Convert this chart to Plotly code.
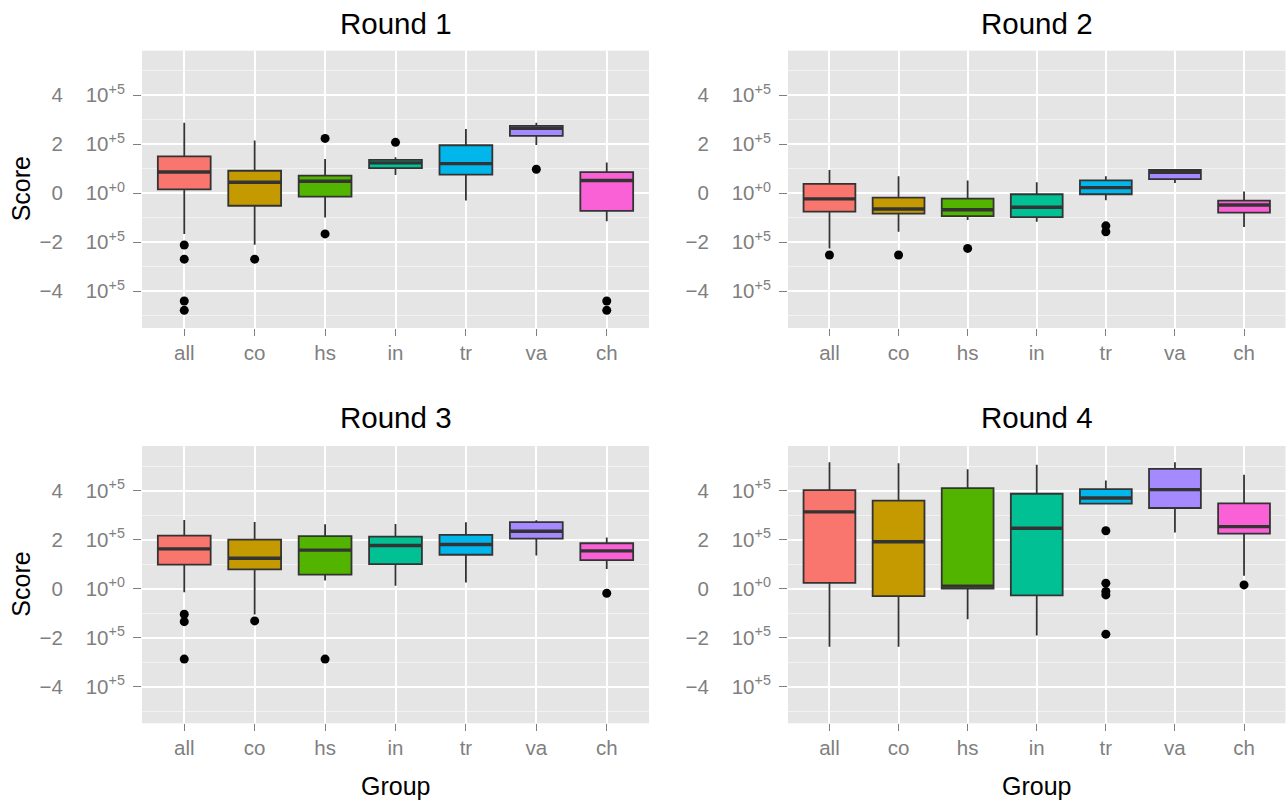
import plotly.graph_objects as go

# ---------------- data (values in units of 10^5) ----------------
groups = ["all", "co", "hs", "in", "tr", "va", "ch"]
colors = ["#F8766D", "#C49A00", "#53B400", "#00C094", "#00B6EB", "#A58AFF", "#FB61D7"]
rounds = ["Round 1", "Round 2", "Round 3", "Round 4"]

r1_q1 = [0.16, -0.51, -0.14, 1.03, 0.76, 2.34, -0.72]
r1_med = [0.87, 0.45, 0.49, 1.24, 1.21, 2.65, 0.52]
r1_q3 = [1.51, 0.92, 0.72, 1.36, 1.96, 2.75, 0.86]
r1_lo = [-1.66, -2.10, -0.99, 0.75, -0.30, 1.97, -1.14]
r1_hi = [2.88, 2.15, 1.40, 1.47, 2.62, 2.88, 1.26]
r1_out = [[-2.11, -2.69, -4.40, -4.78], [-2.69], [2.24, -1.66], [2.08], [], [0.98], [-4.40, -4.78]]

r2_q1 = [-0.75, -0.83, -0.93, -0.97, -0.04, 0.58, -0.79]
r2_med = [-0.23, -0.64, -0.67, -0.57, 0.23, 0.86, -0.48]
r2_q3 = [0.38, -0.18, -0.22, -0.04, 0.53, 0.95, -0.30]
r2_lo = [-2.25, -1.57, -1.09, -1.16, -0.29, 0.42, -1.38]
r2_hi = [0.95, 0.69, 0.52, 0.45, 0.69, 0.97, 0.07]
r2_out = [[-2.52], [-2.52], [-2.25], [], [-1.33, -1.57], [], []]

r3_q1 = [0.98, 0.78, 0.57, 1.00, 1.38, 2.04, 1.16]
r3_med = [1.62, 1.24, 1.57, 1.76, 1.80, 2.34, 1.54]
r3_q3 = [2.16, 2.00, 2.14, 2.12, 2.19, 2.71, 1.85]
r3_lo = [-0.15, -1.06, 0.33, 0.11, 0.25, 1.35, 0.80]
r3_hi = [2.80, 2.72, 2.63, 2.64, 2.71, 2.79, 2.08]
r3_out = [[-1.05, -1.35, -2.88], [-1.32], [-2.88], [], [], [], [-0.19]]

r4_q1 = [0.23, -0.31, 0.00, -0.28, 3.47, 3.29, 2.24]
r4_med = [3.13, 1.91, 0.10, 2.46, 3.70, 4.04, 2.53]
r4_q3 = [4.02, 3.59, 4.10, 3.87, 4.06, 4.89, 3.48]
r4_lo = [-2.37, -2.37, -1.25, -1.92, 3.47, 2.29, 0.52]
r4_hi = [5.16, 5.12, 4.87, 5.05, 4.41, 5.16, 4.65]
r4_out = [[], [], [], [], [2.36, 0.22, -0.12, -0.26, -1.86], [], [0.15]]

ytick_vals = [-4, -2, 0, 2, 4]
ytick_mant = ["\u22124", "\u22122", "0", "2", "4"]
ytick_exp = ["+5", "+5", "+0", "+5", "+5"]
yminor_vals = [-5, -3, -1, 1, 3, 5]

panels = [
    (r1_q1, r1_med, r1_q3, r1_lo, r1_hi, r1_out),
    (r2_q1, r2_med, r2_q3, r2_lo, r2_hi, r2_out),
    (r3_q1, r3_med, r3_q3, r3_lo, r3_hi, r3_out),
    (r4_q1, r4_med, r4_q3, r4_lo, r4_hi, r4_out),
]

# ---------------- layout geometry ----------------
W, H = 1287, 803
FONT = "Liberation Sans, Arial, Helvetica, sans-serif"
BOXW = 0.75
x_dom = [[142 / W, 649 / W], [788 / W, 1285.5 / W]]
y_dom = [[1 - 328 / H, 1 - 50.7 / H], [1 - 723.3 / H, 1 - 446 / H]]

fig = go.Figure()
xpos = list(range(len(groups)))

for p, (q1, med, q3, lo, hi, outs) in enumerate(panels):
    sfx = "" if p == 0 else str(p + 1)
    xa, ya = "x" + sfx, "y" + sfx
    for i, g in enumerate(groups):
        fig.add_trace(go.Box(
            x=[xpos[i]], q1=[q1[i]], median=[med[i]], q3=[q3[i]],
            lowerfence=[lo[i]], upperfence=[hi[i]],
            fillcolor=colors[i], line=dict(color="#333333", width=1.8),
            width=BOXW, whiskerwidth=0, boxpoints=False,
            xaxis=xa, yaxis=ya, showlegend=False, name=g,
        ))
    # thick median lines (ggplot style)
    mx, my = [], []
    for i in range(len(groups)):
        mx += [xpos[i] - BOXW / 2, xpos[i] + BOXW / 2, None]
        my += [med[i], med[i], None]
    fig.add_trace(go.Scatter(x=mx, y=my, mode="lines",
                             line=dict(color="#333333", width=3.4),
                             xaxis=xa, yaxis=ya, showlegend=False, hoverinfo="skip"))
    ox, oy = [], []
    for i in range(len(groups)):
        for v in outs[i]:
            ox.append(xpos[i])
            oy.append(v)
    fig.add_trace(go.Scatter(x=ox, y=oy, mode="markers",
                             marker=dict(color="black", size=9),
                             xaxis=xa, yaxis=ya, showlegend=False))

ytext = [m + "\u00a0\u00a0\u00a0\u00a0" + "10<sup>" + e + "</sup>" for m, e in zip(ytick_mant, ytick_exp)]

layout = dict(
    width=W, height=H,
    margin=dict(l=0, r=0, t=0, b=0),
    paper_bgcolor="white", plot_bgcolor="#E5E5E5",
    boxmode="overlay",
    font=dict(family=FONT),
    showlegend=False,
)
for p in range(4):
    sfx = "" if p == 0 else str(p + 1)
    col, row = p % 2, p // 2
    layout["xaxis" + sfx] = dict(
        domain=x_dom[col], anchor="y" + sfx, range=[-0.6, len(groups) - 0.4],
        tickvals=xpos, ticktext=groups, showgrid=True, gridcolor="white", gridwidth=2,
        zeroline=False, showline=False, ticks="outside", ticklen=7, tickwidth=1.3,
        tickcolor="#7F7F7F", tickfont=dict(size=20.5, color="#7F7F7F", family=FONT),
        ticklabelstandoff=-1,
    )
    layout["yaxis" + sfx] = dict(
        domain=y_dom[row], anchor="x" + sfx, range=[-5.5, 5.82],
        tickvals=ytick_vals, ticktext=ytext, showgrid=True, gridcolor="white", gridwidth=2,
        zeroline=False, showline=False, ticks="outside", ticklen=8, tickwidth=1.3,
        tickcolor="#7F7F7F", tickfont=dict(size=20.5, color="#7F7F7F", family=FONT),
        ticklabelstandoff=4,
        minor=dict(tickvals=yminor_vals, showgrid=True, gridcolor="#F2F2F2", gridwidth=1, ticks=""),
    )

annotations = []
title_y = [1 - 23 / H, 1 - 417.5 / H]
for p, t in enumerate(rounds):
    col, row = p % 2, p // 2
    annotations.append(dict(text=t, x=sum(x_dom[col]) / 2, y=title_y[row], xref="paper", yref="paper",
                            showarrow=False, xanchor="center", yanchor="middle",
                            font=dict(size=29.5, color="black", family=FONT)))
for col in range(2):
    annotations.append(dict(text="Group", x=sum(x_dom[col]) / 2, y=1 - 786 / H, xref="paper", yref="paper",
                            showarrow=False, xanchor="center", yanchor="middle",
                            font=dict(size=25, color="black", family=FONT)))
for row in range(2):
    annotations.append(dict(text="Score", x=21 / W, y=sum(y_dom[row]) / 2, xref="paper", yref="paper",
                            showarrow=False, xanchor="center", yanchor="middle", textangle=-90,
                            font=dict(size=25, color="black", family=FONT)))
layout["annotations"] = annotations

fig.update_layout(**layout)
fig.write_html("out.html", config={"displayModeBar": False},
               post_script="document.body.style.margin='0';document.body.style.padding='0';")
